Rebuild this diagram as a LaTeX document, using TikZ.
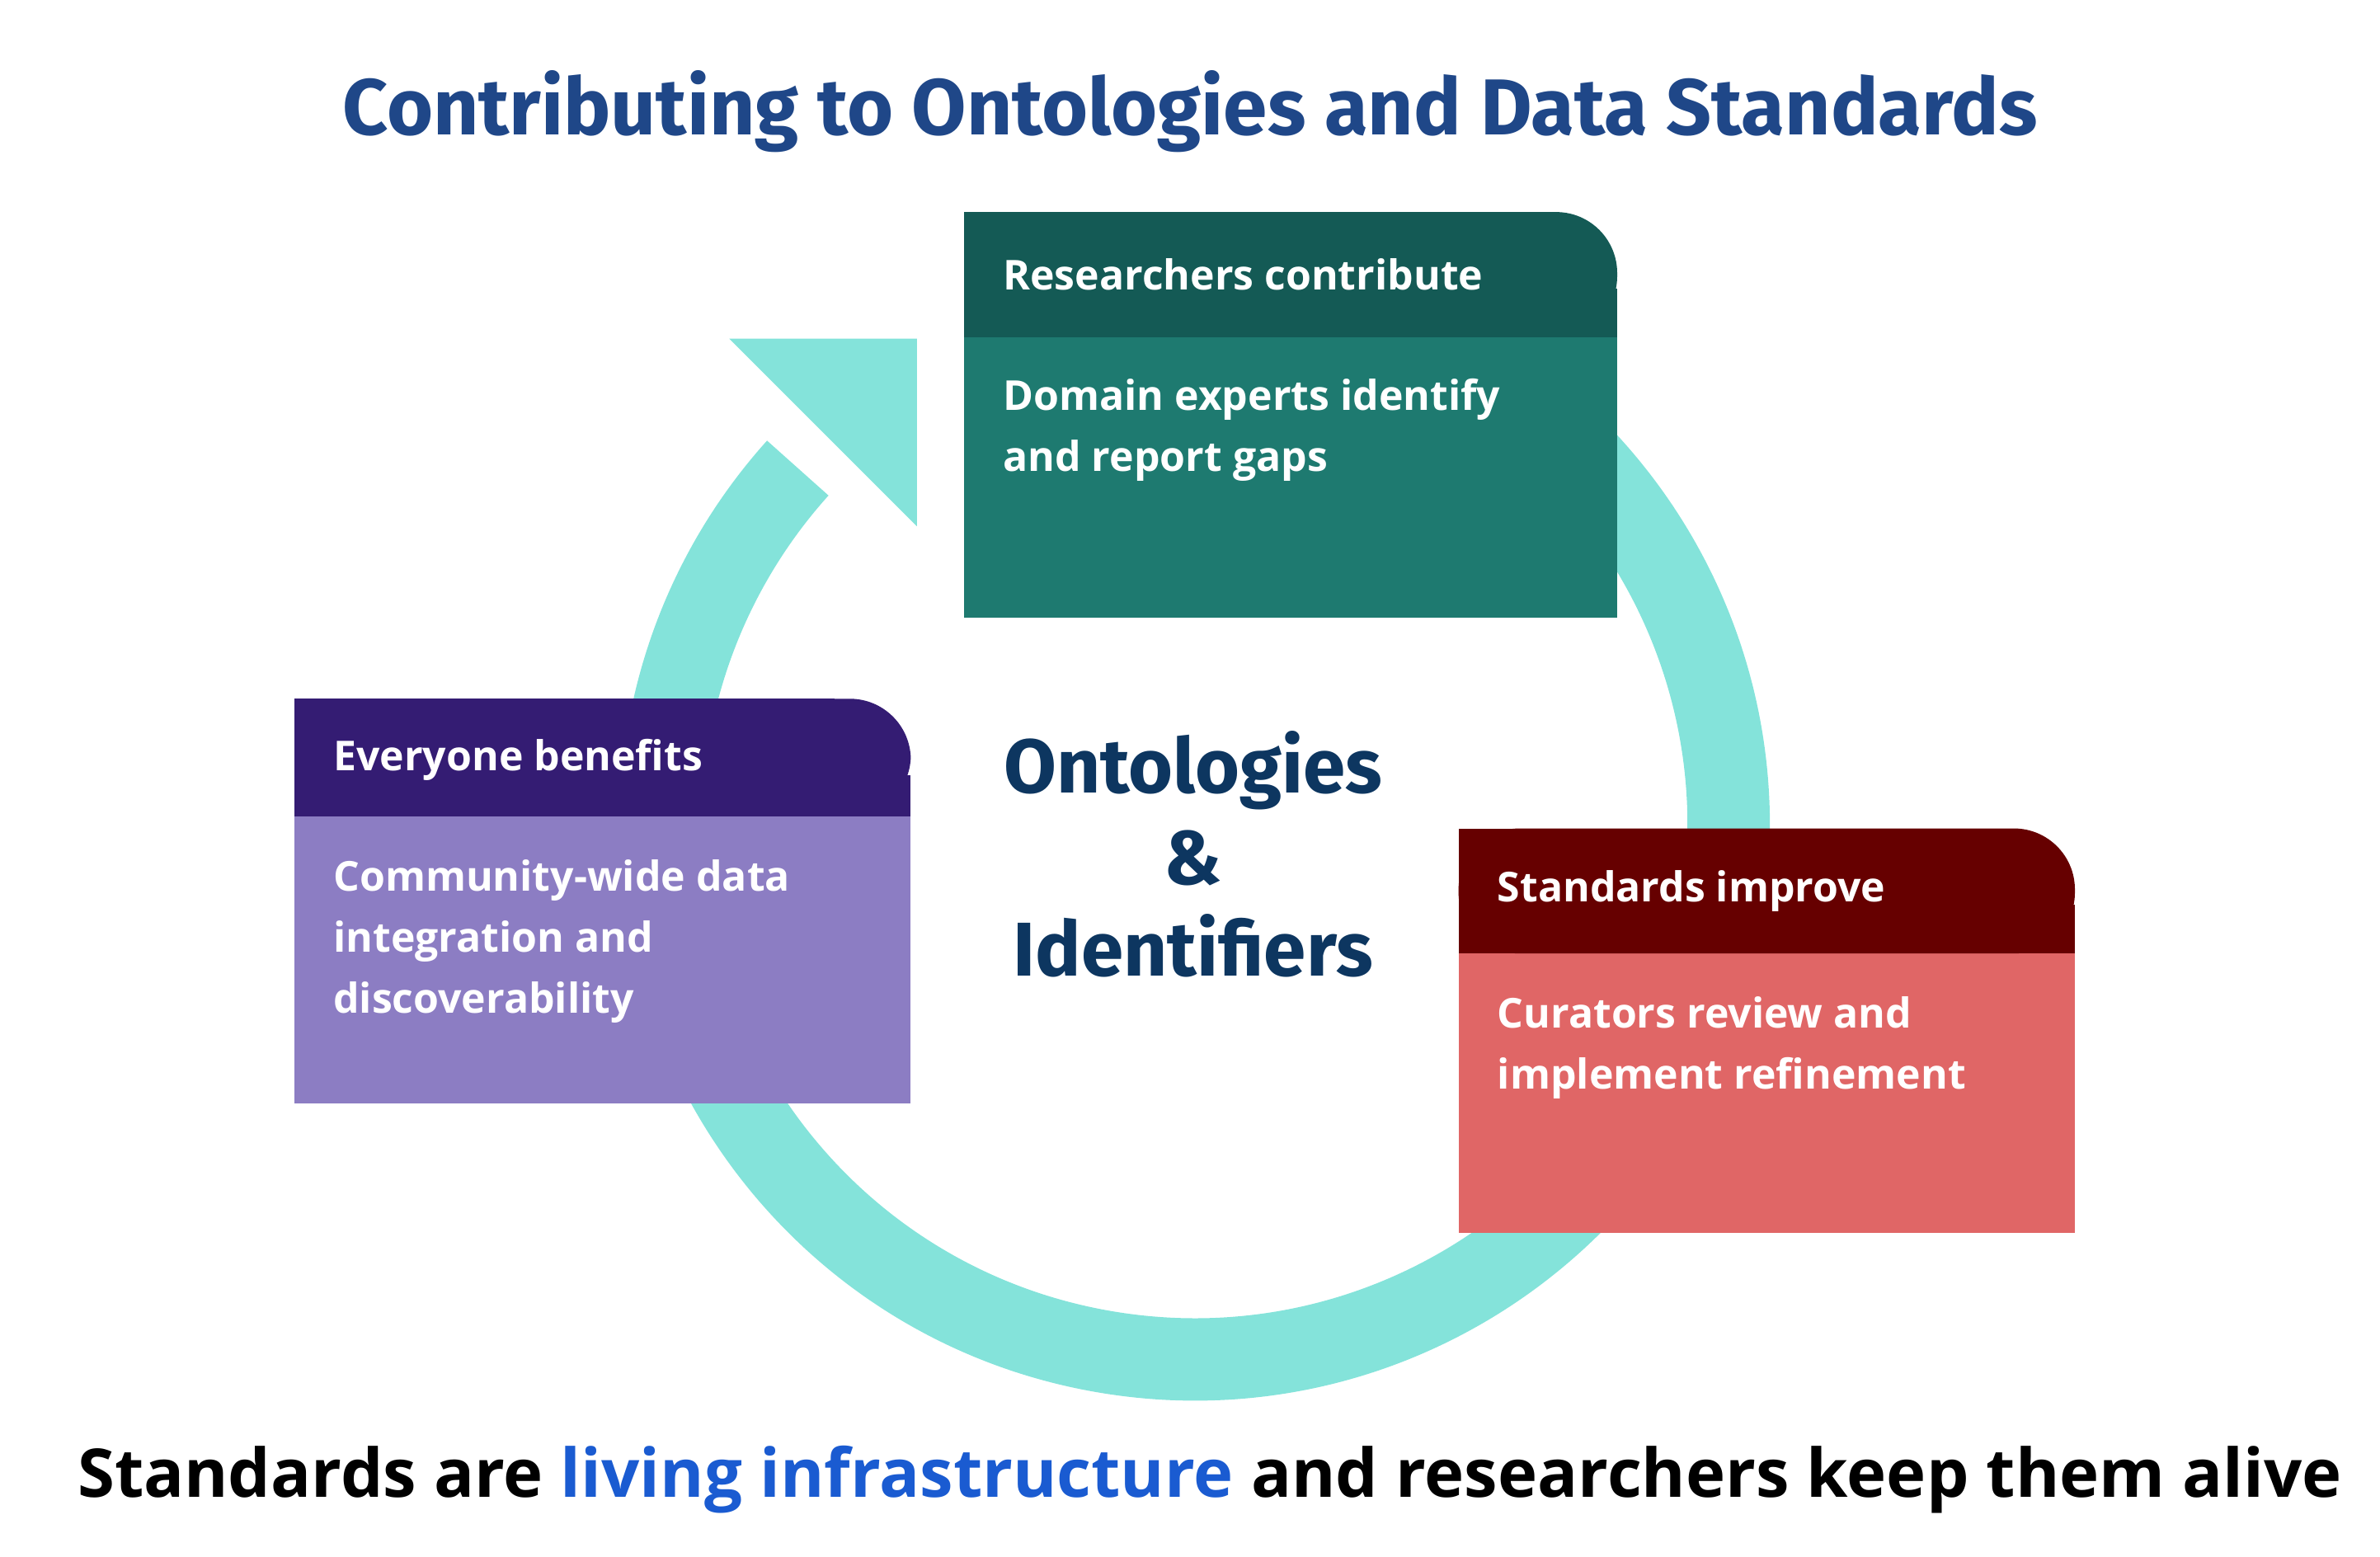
\documentclass[tikz,border=0pt]{standalone}
\usepackage{fontspec}
\setmainfont{Open Sans}
\newfontfamily\titlefont{Fira Sans}
\usetikzlibrary{positioning}
\definecolor{ringc}{HTML}{84E3DA}
\definecolor{titlec}{HTML}{1F4788}
\definecolor{centerc}{HTML}{0D3660}
\definecolor{tealhd}{HTML}{145A55}
\definecolor{tealbd}{HTML}{1E7A70}
\definecolor{purphd}{HTML}{341C73}
\definecolor{purpbd}{HTML}{8C7DC3}
\definecolor{redhd}{HTML}{660000}
\definecolor{redbd}{HTML}{E06666}
\definecolor{livec}{HTML}{1A5BD1}
\tikzset{
  hdtext/.style={anchor=west,text=white,font=\fontsize{27}{32}\selectfont\bfseries},
  bdtext/.style={anchor=north west,text=white,align=left,font=\fontsize{27}{40}\selectfont\bfseries},
}
% box: x1, x2, ytop, yhead, ybottom, header colour, body colour
\newcommand{\cardbox}[7]{
  \fill[#7] (#1,#5) rectangle (#2,#4);
  \fill[#6,rounded corners=40pt] (#1,#4) rectangle (#2,#3);
  \fill[#6] (#1,#4) rectangle (#2-50,#3);
  \fill[#6] (#1,#4) rectangle (#2,#3-50);
}
\begin{document}
\begin{tikzpicture}[x=1pt,y=1pt]
    \useasboundingbox (0,0) rectangle (1560,1020);

    \node[text=titlec,font=\titlefont\fontsize{52}{60}\selectfont\bfseries] (title) at (780,947) {Contributing to Ontologies and Data Standards};

    % ring
    \draw[ringc,line width=54pt] (783,479) ++(80:350) arc (80:-222:350);
    \fill[ringc] (478,798) -- (601,798) -- (601,675) -- cycle;

    \cardbox{632}{1060}{881}{799}{615}{tealhd}{tealbd}
    \cardbox{193}{597}{562}{485}{297}{purphd}{purpbd}
    \cardbox{956}{1360}{477}{395}{212}{redhd}{redbd}

    \node[hdtext] (reshd) at (654,840) {Researchers contribute};
    \node[bdtext] (resbd) at (654,775) {Domain experts identify\\and report gaps};
    \node[hdtext] (evehd) at (215,522) {Everyone benefits};
    \node[bdtext] (evebd) at (215,460) {Community-wide data\\integration and\\discoverability};
    \node[hdtext] (stahd) at (978,436) {Standards improve};
    \node[bdtext] (stabd) at (978,370) {Curators review and\\implement refinement};

    \node[text=centerc,align=center,font=\titlefont\fontsize{50}{60}\selectfont\bfseries] (centre) at (782,460) {Ontologies\\\&\\Identifiers};

    \node[font=\fontsize{44}{50}\selectfont\bfseries] (motto) at (793,50) {Standards are \textcolor{livec}{living infrastructure} and researchers keep them alive};
\end{tikzpicture}
\end{document}
